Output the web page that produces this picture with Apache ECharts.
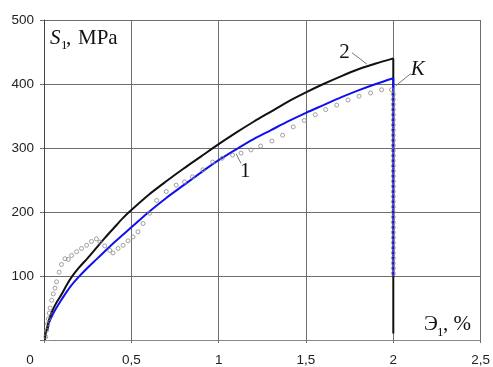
<!DOCTYPE html>
<html>
<head>
<meta charset="utf-8">
<script src="https://cdn.jsdelivr.net/npm/echarts@6/dist/echarts.min.js"></script>
<style>
  html, body { margin: 0; padding: 0; background: #fff; }
  #chart { width: 493px; height: 367px; }
</style>
</head>
<body>
<div id="chart"></div>
<script>
/** axis ticks */
const xTicks = [0, 0.5, 1, 1.5, 2, 2.5];
const yTicks = [0, 100, 200, 300, 400, 500];

/** curve 2 (black), [strain %, stress MPa] */
const curve2 = [
  [0.005, 0], [0.01, 10], [0.02, 22], [0.035, 37], [0.05, 47], [0.075, 60],
  [0.1, 71], [0.13, 86], [0.16, 99], [0.2, 113], [0.25, 128], [0.3, 144],
  [0.35, 160], [0.4, 175], [0.45, 190], [0.5, 203], [0.6, 227], [0.7, 248],
  [0.8, 268], [0.9, 287], [1.0, 306], [1.1, 324], [1.2, 341], [1.3, 357],
  [1.4, 373], [1.5, 387], [1.6, 400], [1.7, 412], [1.8, 423], [1.9, 432],
  [2.0, 440],
];
/** curve 2 unloading at the end of the test */
const curve2Drop = [[2.0, 440], [2.0, 10]];

/** curve 1 (blue) */
const curve1 = [
  [0.02, 15], [0.03, 28], [0.05, 40], [0.075, 52], [0.1, 63], [0.15, 83],
  [0.2, 99], [0.25, 113], [0.3, 126], [0.35, 139], [0.4, 152], [0.45, 164],
  [0.5, 176], [0.6, 200], [0.7, 222], [0.8, 242], [0.9, 262], [1.0, 281],
  [1.1, 298], [1.2, 314], [1.3, 328], [1.4, 342], [1.5, 355], [1.6, 367],
  [1.7, 379], [1.8, 390], [1.9, 400], [2.0, 409],
];
/** curve 1 unloading */
const curve1Drop = [[2.0, 409], [2.0, 100]];

/** experiment (circles) */
const experiment = [
  [0.01, 5], [0.015, 15], [0.02, 25], [0.025, 33], [0.03, 42], [0.035, 50],
  [0.044, 62], [0.053, 72], [0.063, 81], [0.072, 91], [0.087, 106], [0.1, 118],
  [0.12, 127], [0.139, 126], [0.158, 132], [0.187, 138], [0.215, 143],
  [0.244, 148], [0.272, 154], [0.3, 158], [0.32, 153], [0.348, 147],
  [0.377, 140], [0.395, 136], [0.424, 143], [0.453, 148], [0.481, 155],
  [0.51, 161], [0.538, 169], [0.567, 182], [0.605, 198], [0.645, 218],
  [0.7, 232], [0.757, 242], [0.805, 247], [0.85, 255], [0.91, 266],
  [0.966, 278], [1.02, 284], [1.08, 289], [1.128, 292], [1.185, 297],
  [1.24, 303], [1.305, 311], [1.366, 320], [1.427, 333], [1.49, 343],
  [1.553, 352], [1.613, 360], [1.676, 367], [1.741, 375], [1.804, 381],
  [1.87, 386], [1.933, 391], [1.99, 391],
  [2.0, 384], [2.0, 376], [2.0, 368], [2.0, 360], [2.0, 352], [2.0, 344],
  [2.0, 336], [2.0, 328], [2.0, 320], [2.0, 312], [2.0, 304], [2.0, 296],
  [2.0, 288], [2.0, 280], [2.0, 272], [2.0, 264], [2.0, 256], [2.0, 248],
  [2.0, 240], [2.0, 232], [2.0, 224], [2.0, 216], [2.0, 208], [2.0, 200],
  [2.0, 192], [2.0, 184], [2.0, 176], [2.0, 168], [2.0, 160], [2.0, 152],
  [2.0, 144], [2.0, 136], [2.0, 128], [2.0, 120], [2.0, 112], [2.0, 104],
];

/** curve labels: text, label pos, leader start, leader end (data coords) */
const callouts = [
  { text: "2", italic: false, at: [1.72, 450], from: [1.763, 449], to: [1.849, 431] },
  { text: "K", italic: true, at: [2.14, 422], from: [2.099, 416], to: [2.013, 397] },
  { text: "1", italic: false, at: [1.152, 264], from: [1.128, 276], to: [1.10, 291] },
];

const chart = echarts.init(document.getElementById("chart"), null, { renderer: "canvas" });

const gridColor = "#6e6e6e";
const tickFont = { color: "#222", fontSize: 13.5, fontFamily: "Liberation Sans, Arial, sans-serif" };
const blue = { color: "#1010f0", width: 2 };
const black = { color: "#111", width: 2 };

chart.setOption({
  animation: false,
  grid: { left: 44, right: 11, top: 20, bottom: 27 },
  xAxis: {
    type: "value",
    min: xTicks[0],
    max: xTicks[xTicks.length - 1],
    interval: 0.5,
    axisLine: { onZero: false, lineStyle: { color: "#888", width: 1 } },
    axisTick: { show: true, length: 3, lineStyle: { color: gridColor } },
    splitLine: { show: true, lineStyle: { color: gridColor, width: 1 } },
    axisLabel: {
      ...tickFont,
      margin: 13,
      formatter: (v) => (v === 0 ? "{z|0}" : String(v).replace(".", ",")),
      rich: { z: { ...tickFont, padding: [0, 28, 0, 0] } },
    },
  },
  yAxis: {
    type: "value",
    min: yTicks[0],
    max: yTicks[yTicks.length - 1],
    interval: 100,
    axisLine: { show: true, lineStyle: { color: "#444", width: 1 } },
    axisTick: { show: true, length: 4, lineStyle: { color: gridColor } },
    splitLine: { show: true, lineStyle: { color: gridColor, width: 1 } },
    axisLabel: {
      ...tickFont,
      margin: 10,
      formatter: (v) => (v === 0 ? "" : String(v)),
    },
  },
  series: [
    { type: "line", data: curve1, smooth: 0.3, showSymbol: false, lineStyle: blue, z: 2 },
    { type: "line", data: curve1Drop, showSymbol: false, lineStyle: blue, z: 2 },
    { type: "line", data: curve2, smooth: 0.3, showSymbol: false, lineStyle: black, z: 3 },
    { type: "line", data: curve2Drop, showSymbol: false, lineStyle: black, z: 1 },
    {
      type: "scatter",
      data: experiment,
      symbol: "circle",
      symbolSize: 4,
      itemStyle: { color: "rgba(0,0,0,0)", borderColor: "#8a8a8a", borderWidth: 1 },
      z: 4,
    },
  ],
});

/** axis titles and curve callouts */
const serif = "Liberation Serif, Times New Roman, serif";
const graphics = [
  { type: "text", style: { text: "S", x: 50, y: 49, font: `italic 21px ${serif}`, fill: "#111", verticalAlign: "bottom" } },
  { type: "text", style: { text: "1", x: 61, y: 52, font: `13px ${serif}`, fill: "#111", verticalAlign: "bottom" } },
  { type: "text", style: { text: ",", x: 66, y: 49, font: `21px ${serif}`, fill: "#111", verticalAlign: "bottom" } },
  { type: "text", style: { text: "MPa", x: 78, y: 49, font: `21px ${serif}`, fill: "#111", verticalAlign: "bottom" } },
  { type: "text", style: { text: "Э", x: 424, y: 335, font: `21px ${serif}`, fill: "#111", verticalAlign: "bottom" } },
  { type: "text", style: { text: "1", x: 437, y: 339, font: `13px ${serif}`, fill: "#111", verticalAlign: "bottom" } },
  { type: "text", style: { text: ", %", x: 443, y: 335, font: `21px ${serif}`, fill: "#111", verticalAlign: "bottom" } },
];

callouts.forEach((c) => {
  const p = chart.convertToPixel({ gridIndex: 0 }, c.at);
  const a = chart.convertToPixel({ gridIndex: 0 }, c.from);
  const b = chart.convertToPixel({ gridIndex: 0 }, c.to);
  graphics.push({
    type: "line",
    shape: { x1: a[0], y1: a[1], x2: b[0], y2: b[1] },
    style: { stroke: "#777", lineWidth: 1 },
    z: 10,
  });
  graphics.push({
    type: "text",
    style: {
      text: c.text,
      x: p[0],
      y: p[1],
      font: `${c.italic ? "italic " : ""}21px ${serif}`,
      fill: "#111",
      align: "center",
      verticalAlign: "middle",
    },
    z: 10,
  });
});

chart.setOption({ graphic: graphics });
</script>
</body>
</html>
